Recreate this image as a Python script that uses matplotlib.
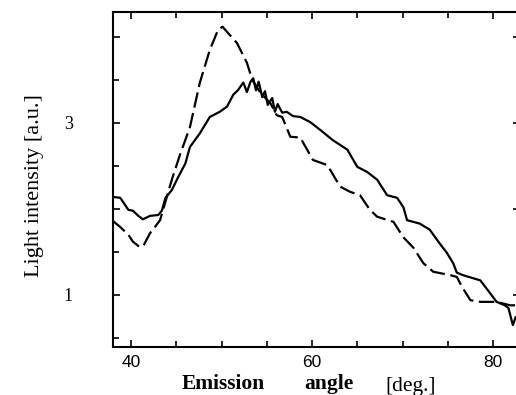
import numpy as np
import matplotlib
matplotlib.use('Agg')
import matplotlib.pyplot as plt
from matplotlib.ticker import MultipleLocator, FixedFormatter, FixedLocator

# solid trace (angle in deg, intensity a.u.)
ang_solid = [38.0, 38.8, 39.7, 40.2, 40.8, 41.3, 42.1, 43.0, 43.4, 43.8, 44.5, 45.2,
             46.0, 46.5, 47.6, 48.7, 49.8, 50.6, 51.3, 51.8, 52.4, 52.8, 53.2, 53.5,
             53.8, 54.1, 54.5, 54.8, 55.1, 55.6, 55.9, 56.2, 56.7, 57.2, 57.9, 58.7,
             59.8, 60.9, 62.3, 63.9, 65.0, 66.1, 67.2, 68.3, 69.4, 70.1, 70.5, 71.9,
             73.0, 74.1, 74.9, 75.6, 76.0, 76.7, 78.6, 79.4, 80.4, 81.3, 81.7, 82.2, 82.5]
int_solid = [2.14, 2.13, 1.99, 1.98, 1.92, 1.88, 1.92, 1.93, 1.98, 2.13, 2.22, 2.37,
             2.53, 2.72, 2.88, 3.07, 3.13, 3.19, 3.33, 3.38, 3.47, 3.36, 3.48, 3.52,
             3.38, 3.48, 3.30, 3.37, 3.21, 3.29, 3.13, 3.22, 3.12, 3.13, 3.08, 3.07,
             3.01, 2.92, 2.80, 2.69, 2.49, 2.43, 2.34, 2.16, 2.13, 2.02, 1.87, 1.83,
             1.76, 1.60, 1.49, 1.37, 1.26, 1.23, 1.17, 1.06, 0.92, 0.88, 0.85, 0.65, 0.74]

# dashed trace
ang_dash = [38.0, 38.8, 39.7, 40.2, 40.8, 41.3, 42.1, 42.7, 43.2, 44.0, 44.5, 45.4,
            46.5, 47.6, 48.7, 49.6, 50.1, 50.6, 51.7, 52.8, 53.4, 54.3, 55.4, 56.1,
            56.7, 57.6, 58.7, 60.1, 61.7, 63.1, 64.2, 65.3, 66.4, 67.2, 69.0, 70.1,
            71.2, 72.3, 73.4, 75.3, 76.0, 76.6, 77.5, 78.6, 80.4, 81.9, 82.5]
int_dash = [1.86, 1.79, 1.70, 1.62, 1.57, 1.56, 1.72, 1.80, 1.87, 2.16, 2.34, 2.63,
            2.95, 3.47, 3.85, 4.08, 4.12, 4.06, 3.93, 3.70, 3.50, 3.35, 3.23, 3.09,
            3.07, 2.84, 2.83, 2.57, 2.51, 2.26, 2.20, 2.16, 1.99, 1.91, 1.85, 1.67,
            1.55, 1.37, 1.27, 1.23, 1.21, 1.09, 0.94, 0.92, 0.92, 0.88, 0.88]

fig = plt.figure(figsize=(5.16, 3.95), dpi=100)
ax = fig.add_axes([0.219, 0.1215, 0.789, 0.848])

ax.plot(ang_solid, int_solid, color='black', lw=1.6)
ax.plot(ang_dash, int_dash, color='black', lw=1.6, dashes=(7, 2.5))

ax.set_xlim(38.0, 83.0)
ax.set_ylim(0.395, 4.29)

ax.xaxis.set_major_locator(FixedLocator([40, 60, 80]))
ax.xaxis.set_minor_locator(MultipleLocator(5))
ax.yaxis.set_major_locator(FixedLocator([1, 2, 3, 4]))
ax.yaxis.set_major_formatter(FixedFormatter(['1', '', '3', '']))
ax.yaxis.set_minor_locator(MultipleLocator(0.5))

ax.tick_params(which='both', direction='in', top=True, right=True, width=1.2)
ax.tick_params(which='major', length=5)
ax.tick_params(which='minor', length=4, right=False)
ax.tick_params(axis='x', which='major', pad=6, labelsize=12.5)
ax.tick_params(axis='y', which='major', pad=29, labelsize=13)
for lab in ax.get_xticklabels():
    lab.set_family('Liberation Sans')
for lab in ax.get_yticklabels():
    lab.set_family('Liberation Serif')

for s in ax.spines.values():
    s.set_linewidth(1.5)

fig.text(0.432, 0.015, 'Emission', family='Liberation Serif', weight='bold', fontsize=15.5, ha='center', va='baseline')
fig.text(0.638, 0.015, 'angle', family='Liberation Serif', weight='bold', fontsize=15.5, ha='center', va='baseline')
fig.text(0.795, 0.010, '[deg.]', family='Liberation Serif', fontsize=15.5, ha='center', va='baseline')
fig.text(0.066, 0.53, 'Light intensity [a.u.]', family='Liberation Serif', fontsize=16,
         rotation=90, ha='center', va='center')

fig.savefig('out.png', dpi=100)
